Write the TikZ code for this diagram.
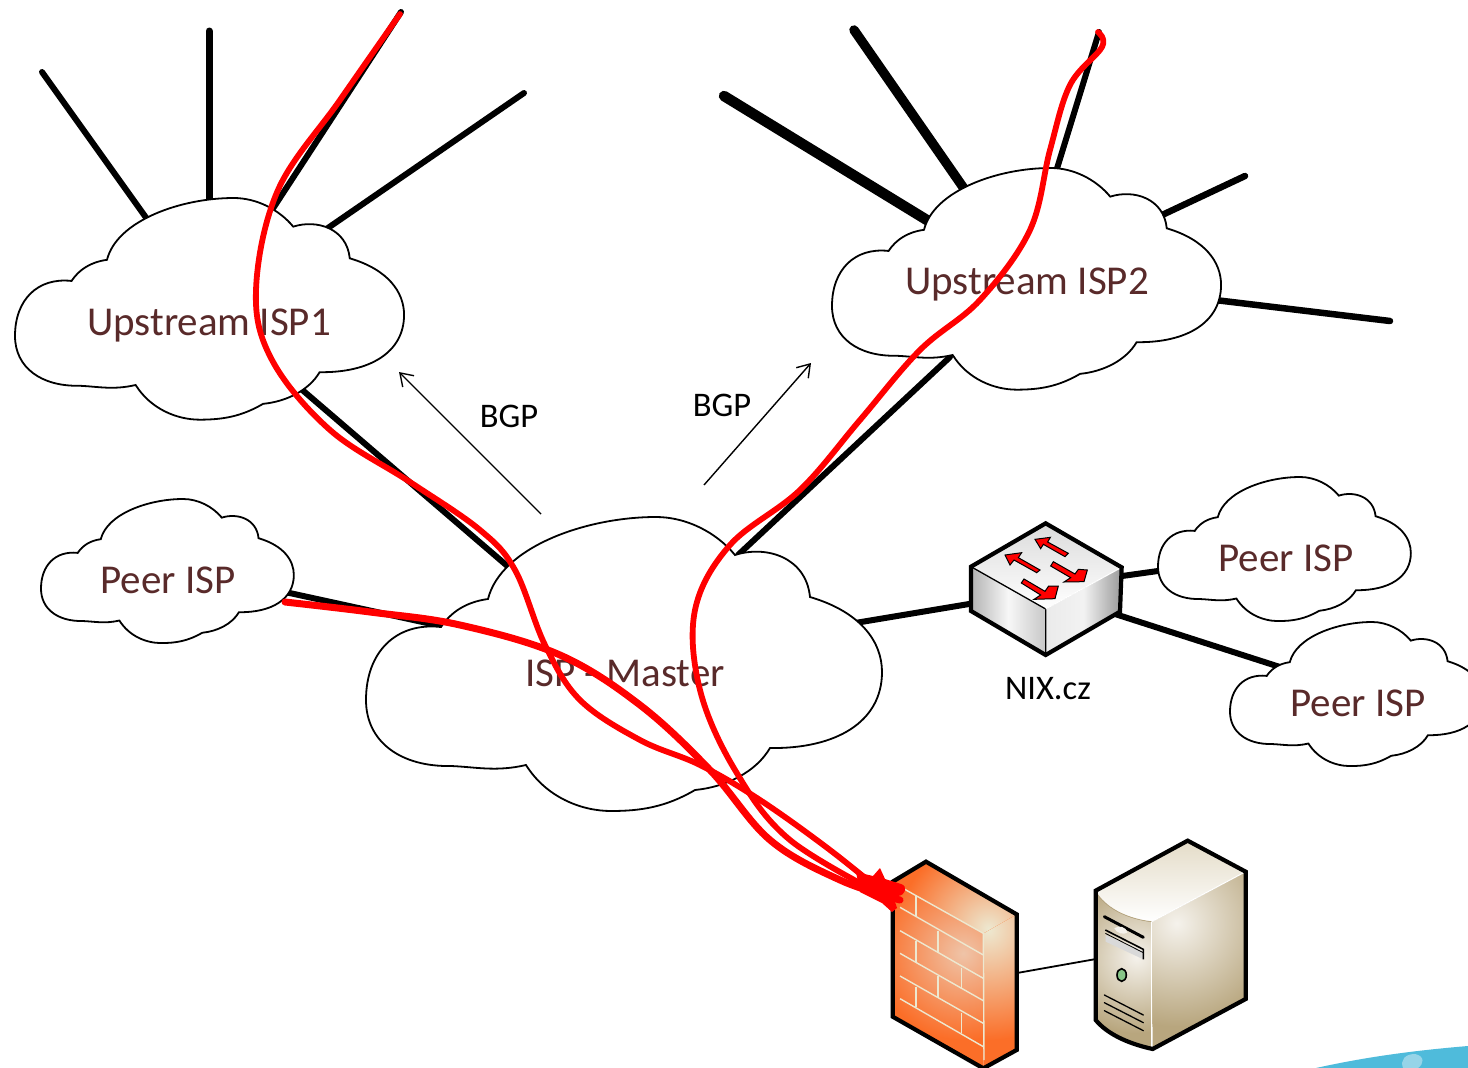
\documentclass[tikz,border=0pt]{standalone}
\usepackage{fontspec}
\setmainfont{Carlito}
\usetikzlibrary{calc,arrows.meta}
\definecolor{lbl}{HTML}{592A2A}
\definecolor{redl}{HTML}{FF0000}
\definecolor{brick}{HTML}{FB6E28}
\definecolor{brickpale}{HTML}{EFC4A8}
\definecolor{mortar}{HTML}{EDE8D0}
\definecolor{srvlight}{HTML}{F5F2EC}
\definecolor{srvdark}{HTML}{B8A67E}
\definecolor{srvmid}{HTML}{E4DCC8}
\tikzset{
 x=1pt,y=-1pt,
 cloudshape/.style={draw=black,fill=white,line width=1.8pt},
 cloudtext/.style={text=lbl,font=\fontsize{41}{43}\selectfont,inner sep=0pt},
 spoke/.style={draw=black,line cap=round,line width=#1},
 spoke/.default=6pt,
 redcurve/.style={draw=redl,line cap=round,line join=round,line width=#1},
 bgparrow/.style={draw=black,line width=1.4pt,-{Straight Barb[length=12pt,width=16pt,line width=1.4pt]}},
 bgptext/.style={text=black,font=\fontsize{34.5}{36}\selectfont,inner sep=0pt},
 iso/.style={draw=black,line width=4.2pt,line join=miter},
}
\newcommand{\cloudat}[4]{% x y scale name
 \begin{scope}[shift={(#1,#2)},scale=#3]
  \path[cloudshape] (85,249) .. controls (35,250) and (0,225) .. (0,183)
   .. controls (0,135) and (30,105) .. (75,110)
   .. controls (85,95) and (100,85) .. (122,82)
   .. controls (135,30) and (220,0) .. (290,0)
   .. controls (320,0) and (350,15) .. (369,38)
   .. controls (400,28) and (440,40) .. (444,80)
   .. controls (495,95) and (516,125) .. (516,155)
   .. controls (516,205) and (470,232) .. (404,231)
   .. controls (390,255) and (360,270) .. (329,273)
   .. controls (300,290) and (275,294) .. (245,294)
   .. controls (215,294) and (180,280) .. (160,248)
   .. controls (130,255) and (110,250) .. (85,249) -- cycle;
  \coordinate (#4) at (258,147);
 \end{scope}}
\begin{document}
\begin{tikzpicture}
\useasboundingbox (0,0) rectangle (1468,1068);
\fill[fill=white] (0,0) rectangle (1468,1068);
\fill[color={rgb,255:red,79;green,187;blue,219}] (1316,1068) .. controls (1370,1056) and (1420,1050) .. (1468,1046) -- (1468,1068) -- cycle;
\fill[color={rgb,255:red,150;green,212;blue,232}] (1403,1068) .. controls (1400,1060) and (1405,1054) .. (1415,1054) .. controls (1425,1056) and (1424,1064) .. (1418,1068) -- cycle;
\coordinate (a1) at (42,72);   \coordinate (a1c) at (147,219);
\coordinate (a2) at (209,31);  \coordinate (a2c) at (209,205);
\coordinate (a3) at (401,12);  \coordinate (a3c) at (272,210);
\coordinate (a4) at (524,93);  \coordinate (a4c) at (325,230);
\coordinate (b1) at (724,96);  \coordinate (b1c) at (935,225);
\coordinate (b2) at (854,30);  \coordinate (b2c) at (965,190);
\coordinate (b3) at (1099,32); \coordinate (b3c) at (1055,175);
\coordinate (b4) at (1245,176);\coordinate (b4c) at (1160,216);
\coordinate (b5) at (1390,321);\coordinate (b5c) at (1215,300);
\draw[spoke=6pt] (a1)--(a1c); \draw[spoke=7pt] (a2)--(a2c);
\draw[spoke=6pt] (a3)--(a3c); \draw[spoke=6pt] (a4)--(a4c);
\draw[spoke=10.5pt] (b1)--(b1c); \draw[spoke=9.5pt] (b2)--(b2c);
\draw[spoke=6pt] (b3)--(b3c); \draw[spoke=6.5pt] (b4)--(b4c);
\draw[spoke=6.5pt] (b5)--(b5c);
\coordinate (m1) at (512,570); \coordinate (u1) at (300,388);
\draw[spoke=6pt] (u1)--(m1);
\coordinate (m2) at (738,555); \coordinate (u2) at (950,357);
\draw[spoke=6pt] (u2)--(m2);
\coordinate (pl) at (285,592); \coordinate (ml) at (450,628);
\draw[spoke=6pt] (pl)--(ml);
\coordinate (mr) at (855,623); \coordinate (swl) at (975,603);
\draw[spoke=6pt] (mr)--(swl);
\coordinate (swr1) at (1115,577); \coordinate (pr1) at (1165,570);
\draw[spoke=6pt] (swr1)--(pr1);
\coordinate (swr2) at (1115,614); \coordinate (pr2) at (1283,668);
\draw[spoke=6pt] (swr2)--(pr2);
\cloudat{15}{198}{.754}{cu1}
\cloudat{832}{168}{.754}{cu2}
\cloudat{366}{517}{1}{cm}
\cloudat{41}{499}{.49}{cpl}
\cloudat{1158}{477}{.49}{cpr1}
\cloudat{1230}{622}{.49}{cpr2}
\node[cloudtext] (tu1) at (209,325) {Upstream ISP1};
\node[cloudtext] (tu2) at (1027,284) {Upstream ISP2};
\node[cloudtext] (tm) at (625,673) {ISP - Master};
\node[cloudtext] (tpl) at (168,580) {Peer ISP};
\node[cloudtext] (tpr1) at (1286,558) {Peer ISP};
\node[cloudtext] (tpr2) at (1358,703) {Peer ISP};
\coordinate (ba1) at (541,514); \coordinate (ba2) at (399,372);
\draw[bgparrow] (ba1)--(ba2);
\coordinate (bb1) at (704,485); \coordinate (bb2) at (811,363);
\draw[bgparrow] (bb1)--(bb2);
\node[bgptext] (bgp1) at (509,416) {BGP};
\node[bgptext] (bgp2) at (722,405) {BGP};
\node[bgptext] (nix) at (1048,689) {NIX.cz};
% switch
\begin{scope}[shift={(950,510)},scale=1/3]
 \fill[left color=black!30,right color=black!22,middle color=black!3] (63,170)--(287,297)--(287,435)--(63,303)--cycle;
 \fill[left color=black!8,right color=black!40,middle color=black!5] (287,297)--(515,172)--(510,305)--(287,435)--cycle;
 \fill[top color=black!14,bottom color=white] (63,170)--(287,40)--(515,172)--(287,297)--cycle;
 \draw[line width=1.3pt,line join=round] (63,170)--(287,297)--(287,435);
 \draw[white,line width=1pt] (287,297)--(515,172);
 \draw[iso] (63,170)--(287,40)--(515,172)--(510,305)--(287,435)--(63,303)--cycle;
 \begin{scope}[draw=black,fill=redl,line width=1pt,line join=miter]
  \filldraw (355,130)--(293,96)--(301,82)--(255,88)--(272,116)--(280,103)--(345,140)--cycle;
  \filldraw (270,180)--(205,143)--(215,128)--(165,135)--(180,165)--(192,150)--(260,188)--cycle;
  \filldraw (310,155)--(375,192)--(385,178)--(412,180)--(402,215)--(342,216)--(362,203)--(302,168)--cycle;
  \filldraw (222,207)--(285,244)--(296,228)--(325,228)--(315,266)--(252,268)--(272,255)--(214,219)--cycle;
 \end{scope}
\end{scope}
\coordinate (fwr) at (1017,973); \coordinate (srl) at (1096,959);
\draw[black,line width=1.8pt] (fwr)--(srl);
% firewall
\begin{scope}[shift={(860,820)},scale=1/3]
 \begin{scope}
  \clip (98,185)--(370,340)--(370,740)--(98,590)--cycle;
  \fill[brick] (90,100) rectangle (380,760);
  \shade[inner color=brickpale,outer color=brick] (310,400) circle (260);
 \end{scope}
 \begin{scope}
  \clip (370,340)--(470,283)--(470,690)--(370,740)--cycle;
  \fill[brick] (360,270) rectangle (480,750);
  \shade[inner color=mortar,outer color=brick] (385,330) circle (330);
 \end{scope}
 \begin{scope}
  \clip (98,185)--(198,125)--(470,283)--(370,340)--cycle;
  \fill[brick] (90,120) rectangle (480,350);
  \shade[inner color=mortar,outer color=brick] (385,325) circle (270);
 \end{scope}
 \begin{scope}[draw=mortar,line width=1.4pt,line cap=butt]
  \draw (120,200)--(370,340)--(372,720);
  \draw (120,262)--(370,405);
  \draw (120,332)--(370,475);
  \draw (120,400)--(370,542);
  \draw (120,468)--(370,610);
  \draw (120,536)--(370,680);
  \draw (168,228)--(168,290);
  \draw (234,334)--(234,395);
  \draw (168,362)--(168,425);
  \draw (304,443)--(304,505);
  \draw (234,468)--(234,530);
  \draw (168,500)--(168,562);
  \draw (304,578)--(304,640);
 \end{scope}
 \draw[iso] (98,185)--(198,125)--(470,283)--(470,690)--(370,745)--(98,590)--cycle;
% server
 \begin{scope}
  \clip (712,222) .. controls (745,270) and (810,298) .. (875,305)--(875,685) .. controls (800,670) and (740,640) .. (707,600)--cycle;
  \fill[srvdark] (700,210) rectangle (880,690);
  \shade[inner color=srvlight,outer color=srvdark] (830,410) circle (230);
 \end{scope}
 \begin{scope}
  \clip (875,305)--(1157,155)--(1157,537)--(878,687)--cycle;
  \fill[srvdark] (870,150) rectangle (1160,690);
  \shade[inner color=srvlight,outer color=srvdark] (950,310) circle (310);
 \end{scope}
 \fill[bottom color=white,top color=srvmid] (712,215)--(983,62)--(1157,155)--(875,305) .. controls (810,298) and (745,270) .. (712,222)--cycle;
 \draw[srvdark,line width=.7pt] (712,222) .. controls (745,270) and (810,298) .. (875,305);
 \draw[white,line width=1pt] (875,305)--(1157,155);
 \draw[white,line width=1.3pt] (875,305)--(875,685);
 \draw[black,line width=3pt,line cap=round] (733,290)--(850,352);
 \fill[srvlight] (763,325) .. controls (775,315) and (800,320) .. (802,338) .. controls (790,345) and (770,340) .. (763,325)--cycle;
 \fill[white!70!gray] (737,345)--(850,395)--(850,418)--(737,365)--cycle;
 \draw[black,line width=1.6pt] (736,330)--(850,388)--(850,418);
 \draw[black,line width=.8pt] (736,340)--(850,398);
 \filldraw[draw=black,fill=green!35!gray!70,line width=1.6pt] (785,465) ellipse (14 and 19);
 \draw[black,line width=1.3pt,line cap=round] (733,525)--(850,585);
 \draw[black,line width=1.3pt,line cap=round] (733,548)--(850,608);
 \draw[black,line width=1.3pt,line cap=round] (733,572)--(850,632);
 \draw[iso] (707,212)--(983,62)--(1157,155)--(1157,537)--(878,687) .. controls (800,670) and (740,640) .. (707,600)--cycle;
\end{scope}
% red traces
\draw[redcurve=5.8pt] plot[smooth,tension=.6] coordinates {(400,14)(340,100)(278,190)(256,290)(272,360)(330,430)(410,482)(480,530)(515,570)(545,645)(580,700)(640,740)(700,765)(760,800)(830,850)(892,900)};
\draw[redcurve=5.8pt] plot[smooth,tension=.6] coordinates {(1098,32)(1102,47)(1070,85)(1050,150)(1030,230)(980,300)(920,350)(860,420)(800,490)(730,545)(695,610)(700,690)(735,770)(790,840)(892,900)};
\draw[redcurve=7pt] plot[smooth,tension=.6] coordinates {(285,602)(370,612)(460,625)(560,655)(640,705)(710,770)(770,840)(840,880)(900,900)};
\fill[redl] (856,872)--(873,876)--(880,868)--(885,879)--(901,884) .. controls (908,886) and (906,895) .. (898,896)--(893,896)--(897,908)--(892,912)--(882,903)--(860,892)--cycle;
\end{tikzpicture}
\end{document}
